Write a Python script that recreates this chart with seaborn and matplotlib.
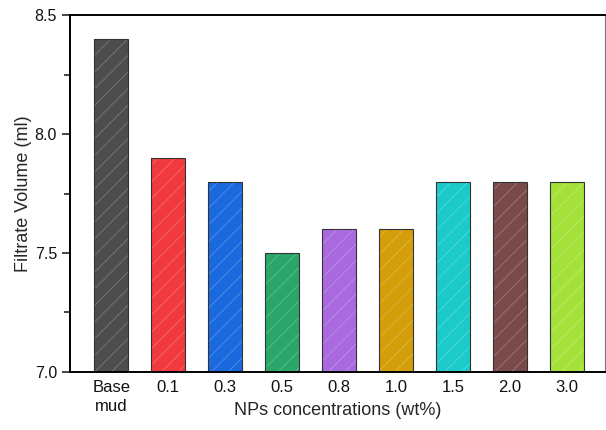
import matplotlib
matplotlib.use('Agg')
import matplotlib.pyplot as plt
import seaborn as sns
import pandas as pd
from matplotlib.patches import Rectangle
from matplotlib.ticker import MultipleLocator

categories = ['Base\nmud', '0.1', '0.3', '0.5', '0.8', '1.0', '1.5', '2.0', '3.0']
volumes = [8.4, 7.9, 7.8, 7.5, 7.6, 7.6, 7.8, 7.8, 7.8]
bar_colors = ['#4d4d4d', '#f03a3e', '#1a6ade', '#2aa66a', '#a86ade',
              '#d49e0a', '#1ccaca', '#7a4a4a', '#a4e23a']

sns.set_style('ticks')
plt.rcParams['font.family'] = ['Liberation Sans', 'DejaVu Sans']
plt.rcParams['hatch.linewidth'] = 0.5
plt.rcParams['text.color'] = '#111111'

df = pd.DataFrame({'conc': categories, 'vol': volumes})

fig, ax = plt.subplots(figsize=(6.06, 4.3), dpi=100)
fig.subplots_adjust(left=0.116, right=0.998, top=0.965, bottom=0.135)

sns.barplot(data=df, x='conc', y='vol', hue='conc', palette=bar_colors,
            width=0.6, legend=False, ax=ax, saturation=1)

# light diagonal hatching, then a dark outline on top
for p, c in zip(ax.patches, bar_colors):
    p.set_hatch('//')
    p.set_edgecolor((1, 1, 1, 0.3))
    p.set_linewidth(0)
    ax.add_patch(Rectangle(p.get_xy(), p.get_width(), p.get_height(),
                           fill=False, edgecolor='#333333', linewidth=0.8))

ax.set_ylim(7.0, 8.5)
ax.set_xlim(-0.72, 8.67)
ax.yaxis.set_major_locator(MultipleLocator(0.5))
ax.yaxis.set_minor_locator(MultipleLocator(0.25))
ax.tick_params(axis='y', which='major', length=6, width=1.2, labelsize=11.5,
               direction='out', labelcolor='#111111')
ax.tick_params(axis='y', which='minor', length=4, width=1.2, direction='out')
ax.tick_params(axis='x', length=0, labelsize=12, pad=6, labelcolor='#111111')
for t in ax.get_xticklabels():
    t.set_linespacing(1.35)

for s in ['left', 'bottom', 'top']:
    ax.spines[s].set_linewidth(1.4)
    ax.spines[s].set_color('black')
ax.spines['right'].set_linewidth(0.8)
ax.spines['right'].set_color('#777777')

ax.set_xlabel('NPs concentrations (wt%)', fontsize=13)
ax.xaxis.set_label_coords(0.5, -0.085)
ax.set_ylabel('Filtrate Volume (ml)', fontsize=13, labelpad=2)

fig.savefig('out.png', dpi=100)
